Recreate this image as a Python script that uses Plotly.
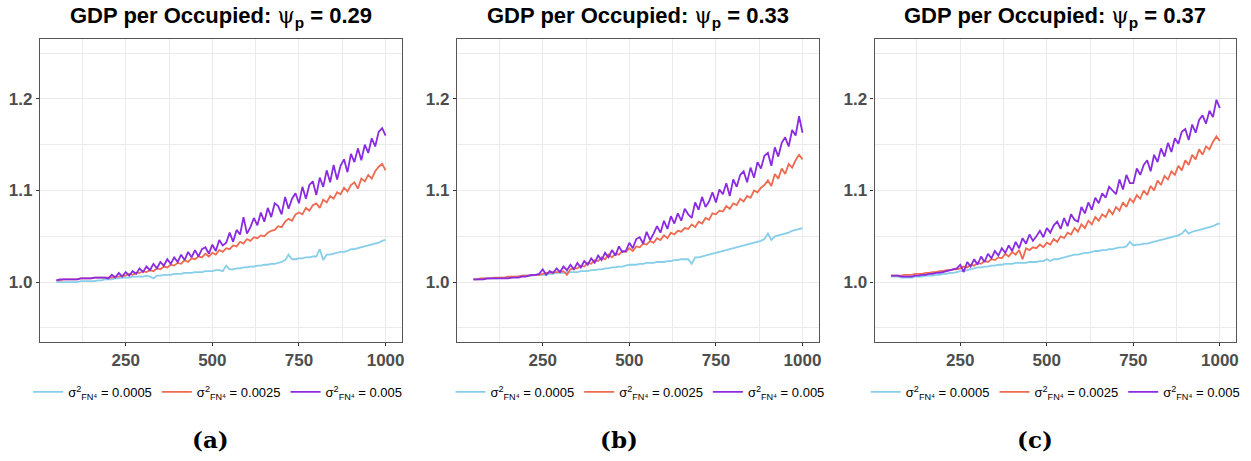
import plotly.graph_objects as go

steps = list(range(50, 1001, 10))

psi_values = ["0.29", "0.33", "0.37"]
panel_labels = ["(a)", "(b)", "(c)"]
sigma_labels = ["0.0005", "0.0025", "0.005"]
line_colors = ["#87CEEB", "#EE6A50", "#8A2BE2"]

# ---- panel (a): psi_p = 0.29 ----
p1_s0005 = [1.000,1.000,1.000,1.000,1.000,1.000,1.000,1.001,1.001,1.001,
            1.001,1.001,1.002,1.002,1.003,1.003,1.003,1.004,1.004,1.005,
            1.005,1.005,1.006,1.006,1.006,1.006,1.007,1.006,1.004,1.007,
            1.007,1.008,1.008,1.008,1.009,1.009,1.009,1.010,1.010,1.010,
            1.011,1.011,1.011,1.012,1.012,1.012,1.013,1.013,1.012,1.018,
            1.014,1.014,1.015,1.015,1.016,1.016,1.017,1.017,1.018,1.018,
            1.019,1.019,1.020,1.020,1.021,1.022,1.024,1.030,1.025,1.025,
            1.026,1.026,1.027,1.027,1.028,1.028,1.036,1.024,1.030,1.030,
            1.031,1.032,1.033,1.033,1.034,1.036,1.036,1.037,1.038,1.039,
            1.040,1.041,1.042,1.043,1.045,1.046]
p1_s0025 = [1.002,1.002,1.003,1.003,1.003,1.003,1.003,1.004,1.004,1.004,
            1.004,1.005,1.005,1.005,1.005,1.005,1.005,1.006,1.006,1.007,
            1.007,1.009,1.008,1.010,1.010,1.012,1.011,1.013,1.012,1.015,
            1.014,1.017,1.016,1.019,1.018,1.021,1.020,1.024,1.022,1.026,
            1.025,1.028,1.027,1.031,1.028,1.032,1.030,1.035,1.033,1.037,
            1.036,1.040,1.039,1.044,1.042,1.047,1.045,1.049,1.048,1.051,
            1.050,1.054,1.056,1.057,1.061,1.060,1.066,1.069,1.067,1.074,
            1.076,1.074,1.081,1.078,1.084,1.086,1.081,1.090,1.087,1.094,
            1.091,1.098,1.096,1.103,1.099,1.106,1.109,1.102,1.113,1.110,
            1.117,1.113,1.121,1.126,1.129,1.122]
p1_s005 = [1.002,1.003,1.003,1.003,1.003,1.003,1.003,1.004,1.004,1.004,
           1.004,1.005,1.005,1.005,1.005,1.004,1.008,1.005,1.010,1.006,
           1.011,1.007,1.012,1.009,1.015,1.011,1.017,1.013,1.020,1.015,
           1.022,1.018,1.025,1.020,1.027,1.022,1.030,1.024,1.033,1.027,
           1.035,1.028,1.036,1.038,1.031,1.041,1.034,1.046,1.040,1.043,
           1.054,1.044,1.057,1.052,1.071,1.053,1.060,1.070,1.062,1.076,
           1.066,1.081,1.071,1.086,1.083,1.074,1.093,1.080,1.091,1.097,
           1.086,1.104,1.091,1.106,1.110,1.095,1.114,1.104,1.122,1.109,
           1.128,1.112,1.127,1.134,1.120,1.140,1.131,1.146,1.133,1.150,
           1.141,1.157,1.148,1.164,1.168,1.160]

# ---- panel (b): psi_p = 0.33 ----
p2_s0005 = [1.003,1.003,1.003,1.004,1.004,1.004,1.004,1.004,1.005,1.005,
            1.005,1.005,1.006,1.006,1.007,1.007,1.007,1.007,1.008,1.008,
            1.008,1.008,1.009,1.009,1.010,1.010,1.010,1.011,1.011,1.011,
            1.011,1.012,1.012,1.012,1.013,1.013,1.014,1.014,1.015,1.015,
            1.016,1.016,1.017,1.017,1.018,1.019,1.019,1.019,1.020,1.020,
            1.021,1.021,1.021,1.022,1.022,1.022,1.023,1.023,1.024,1.024,
            1.025,1.025,1.025,1.020,1.027,1.027,1.028,1.029,1.030,1.031,
            1.032,1.033,1.034,1.035,1.036,1.037,1.038,1.039,1.040,1.041,
            1.042,1.043,1.044,1.045,1.047,1.053,1.046,1.050,1.051,1.052,
            1.053,1.054,1.056,1.057,1.058,1.059]
p2_s0025 = [1.003,1.003,1.004,1.004,1.004,1.004,1.005,1.005,1.005,1.005,
            1.006,1.006,1.006,1.006,1.007,1.007,1.007,1.008,1.008,1.008,
            1.009,1.010,1.010,1.011,1.011,1.011,1.012,1.008,1.014,1.015,
            1.015,1.018,1.017,1.021,1.020,1.024,1.023,1.027,1.025,1.030,
            1.027,1.031,1.030,1.034,1.033,1.037,1.034,1.039,1.038,1.042,
            1.041,1.045,1.043,1.048,1.046,1.051,1.048,1.054,1.052,1.056,
            1.055,1.059,1.058,1.063,1.060,1.066,1.064,1.070,1.068,1.075,
            1.074,1.078,1.077,1.083,1.080,1.086,1.084,1.091,1.088,1.094,
            1.092,1.100,1.098,1.103,1.106,1.111,1.105,1.118,1.113,1.124,
            1.118,1.129,1.125,1.133,1.139,1.134]
p2_s005 = [1.003,1.003,1.003,1.003,1.004,1.004,1.004,1.004,1.004,1.004,
           1.004,1.005,1.005,1.005,1.006,1.006,1.007,1.008,1.008,1.009,
           1.014,1.008,1.012,1.010,1.015,1.011,1.017,1.013,1.019,1.014,
           1.021,1.016,1.023,1.019,1.026,1.021,1.029,1.024,1.032,1.027,
           1.035,1.029,1.039,1.033,1.034,1.043,1.037,1.047,1.049,1.042,
           1.055,1.046,1.053,1.061,1.054,1.067,1.058,1.072,1.064,1.075,
           1.067,1.080,1.074,1.070,1.087,1.079,1.093,1.082,1.088,1.098,
           1.087,1.101,1.096,1.108,1.094,1.112,1.104,1.117,1.121,1.109,
           1.125,1.114,1.131,1.124,1.138,1.141,1.127,1.147,1.137,1.152,
           1.158,1.148,1.166,1.160,1.181,1.163]

# ---- panel (c): psi_p = 0.37 ----
p3_s0005 = [1.006,1.006,1.006,1.005,1.005,1.005,1.005,1.006,1.006,1.006,
            1.007,1.007,1.007,1.008,1.008,1.009,1.009,1.010,1.010,1.011,
            1.012,1.012,1.013,1.014,1.015,1.016,1.016,1.017,1.017,1.018,
            1.018,1.019,1.019,1.020,1.020,1.020,1.021,1.021,1.021,1.021,
            1.022,1.022,1.022,1.023,1.023,1.025,1.023,1.025,1.025,1.026,
            1.027,1.028,1.029,1.030,1.030,1.031,1.032,1.032,1.033,1.034,
            1.034,1.035,1.035,1.036,1.036,1.037,1.038,1.038,1.039,1.044,
            1.040,1.041,1.041,1.042,1.042,1.043,1.044,1.045,1.046,1.047,
            1.048,1.049,1.050,1.051,1.053,1.057,1.053,1.055,1.056,1.057,
            1.058,1.059,1.060,1.061,1.063,1.064]
p3_s0025 = [1.007,1.007,1.007,1.007,1.008,1.008,1.008,1.009,1.009,1.009,
            1.010,1.010,1.011,1.011,1.012,1.012,1.013,1.013,1.014,1.014,
            1.015,1.017,1.016,1.019,1.018,1.021,1.020,1.023,1.022,1.025,
            1.024,1.027,1.026,1.031,1.028,1.033,1.030,1.035,1.025,1.037,
            1.035,1.038,1.037,1.041,1.038,1.043,1.041,1.047,1.044,1.050,
            1.048,1.054,1.052,1.059,1.055,1.063,1.059,1.067,1.063,1.071,
            1.067,1.074,1.071,1.079,1.074,1.082,1.078,1.087,1.082,1.091,
            1.087,1.095,1.091,1.100,1.095,1.105,1.100,1.111,1.106,1.116,
            1.112,1.121,1.117,1.127,1.122,1.133,1.128,1.139,1.134,1.145,
            1.139,1.148,1.145,1.153,1.159,1.154]
p3_s005 = [1.007,1.007,1.007,1.006,1.006,1.006,1.006,1.007,1.007,1.008,
           1.008,1.009,1.009,1.010,1.010,1.011,1.012,1.013,1.014,1.015,
           1.019,1.011,1.022,1.017,1.025,1.019,1.028,1.022,1.031,1.026,
           1.034,1.029,1.037,1.032,1.040,1.034,1.044,1.037,1.048,1.042,
           1.052,1.045,1.050,1.056,1.049,1.059,1.054,1.062,1.066,1.058,
           1.070,1.061,1.074,1.068,1.066,1.082,1.075,1.087,1.079,1.092,
           1.086,1.097,1.092,1.104,1.100,1.096,1.112,1.101,1.117,1.108,
           1.108,1.124,1.117,1.128,1.133,1.121,1.139,1.131,1.146,1.137,
           1.152,1.142,1.157,1.151,1.164,1.167,1.155,1.172,1.163,1.177,
           1.182,1.173,1.187,1.180,1.199,1.190]

panels = [
    [p1_s0005, p1_s0025, p1_s005],
    [p2_s0005, p2_s0025, p2_s005],
    [p3_s0005, p3_s0025, p3_s005],
]

W, H = 1251, 461
x_px = [(40.0, 402.7), (457.7, 820.3), (876.0, 1238.3)]
y_px = (39.3, 341.7)
ydom = [(H - y_px[1]) / H, (H - y_px[0]) / H]
legend_centers = [218, 641, 1057]
label_centers = [211, 620, 1037]

fig = go.Figure()
legend_names = ["legend", "legend2", "legend3"]
axis_ids = ["", "2", "3"]

for p, series in enumerate(panels):
    for s, vals in enumerate(series):
        fig.add_trace(go.Scatter(
            x=steps, y=vals, mode="lines",
            line=dict(color=line_colors[s], width=1.8),
            name="σ<sup>2</sup><sub>FN⁴</sub> = " + sigma_labels[s],
            legend=legend_names[p],
            xaxis="x" + axis_ids[p], yaxis="y" + axis_ids[p],
            hoverinfo="skip",
        ))

layout = dict(
    width=W, height=H,
    margin=dict(l=0, r=0, t=0, b=0),
    paper_bgcolor="white", plot_bgcolor="white",
    showlegend=True,
    annotations=[],
)

grid_col = "#EBEBEB"
for p in range(3):
    xa = dict(
        domain=[x_px[p][0] / W, x_px[p][1] / W],
        range=[2.5, 1047.5],
        tickvals=[250, 500, 750, 1000],
        ticktext=["250", "500", "750", "1000"],
        showgrid=True, gridcolor=grid_col, gridwidth=1.1,
        minor=dict(tickvals=[125, 375, 625, 875], showgrid=True,
                   gridcolor=grid_col, gridwidth=0.6),
        showline=True, linecolor="#555555", linewidth=1.2, mirror=True,
        ticks="outside", ticklen=3, tickcolor="#333333", tickwidth=1,
        tickfont=dict(family="Liberation Sans", size=17, color="#4D4D4D",
                      weight="bold"),
        zeroline=False,
        anchor="y" + axis_ids[p],
    )
    ya = dict(
        domain=ydom,
        range=[0.935, 1.265],
        tickvals=[1.0, 1.1, 1.2],
        ticktext=["1.0", "1.1", "1.2"],
        showgrid=True, gridcolor=grid_col, gridwidth=1.1,
        minor=dict(tickvals=[0.95, 1.05, 1.15, 1.25], showgrid=True,
                   gridcolor=grid_col, gridwidth=0.6),
        showline=True, linecolor="#555555", linewidth=1.2, mirror=True,
        ticks="outside", ticklen=3, tickcolor="#333333", tickwidth=1,
        tickfont=dict(family="Liberation Sans", size=17, color="#4D4D4D",
                      weight="bold"),
        zeroline=False,
        anchor="x" + axis_ids[p],
    )
    layout["xaxis" + axis_ids[p]] = xa
    layout["yaxis" + axis_ids[p]] = ya

    layout[legend_names[p]] = dict(
        orientation="h",
        x=legend_centers[p] / W, xanchor="center",
        y=(H - 392) / H, yanchor="middle",
        font=dict(family="Liberation Sans", size=13, color="#000000"),
        itemwidth=30,
        bgcolor="rgba(0,0,0,0)",
        tracegroupgap=0,
        traceorder="normal",
    )

    cx = (x_px[p][0] + x_px[p][1]) / 2 / W
    layout["annotations"].append(dict(
        xref="paper", yref="paper", x=cx, y=(H - 17) / H,
        xanchor="center", yanchor="middle", showarrow=False,
        text=("<b>GDP per Occupied: </b>"
              "<span style=\"font-family:'DejaVu Serif';font-weight:normal\">ψ</span>"
              "<sub><b>p</b></sub><b> = " + psi_values[p] + "</b>"),
        font=dict(family="Liberation Sans", size=22, color="#000000"),
    ))
    layout["annotations"].append(dict(
        xref="paper", yref="paper", x=label_centers[p] / W, y=(H - 439) / H,
        xanchor="center", yanchor="middle", showarrow=False,
        text="<b>" + panel_labels[p] + "</b>",
        font=dict(family="DejaVu Serif", size=23, color="#000000"),
    ))

fig.update_layout(**layout)
fig.write_html("out.html")
